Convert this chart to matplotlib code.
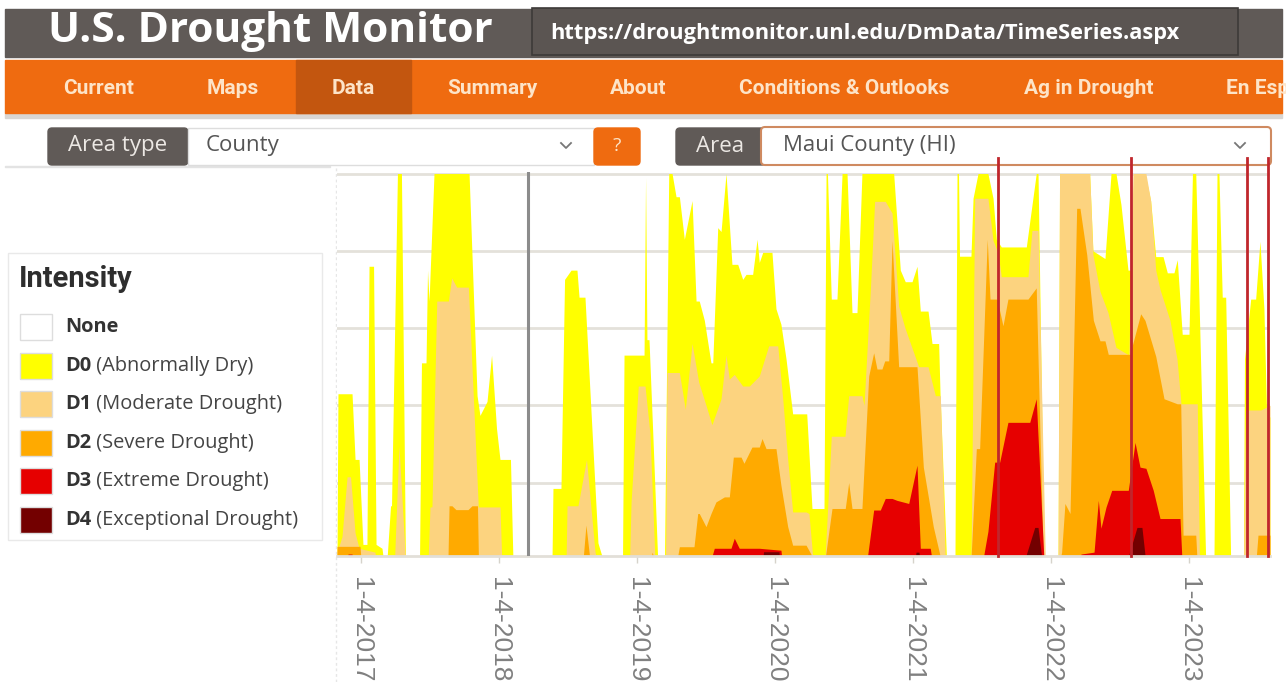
import matplotlib
matplotlib.use("Agg")
import matplotlib.pyplot as plt
from matplotlib.patches import Rectangle, FancyBboxPatch

W, H = 1286, 682

# Cumulative % of Maui County in each category; time in decimal years (2017.0 = 1-4-2017)
d0_t = [2016.826, 2016.833, 2016.935, 2016.957, 2016.986, 2017.014, 2017.043, 2017.058, 2017.091,
        2017.109, 2017.152, 2017.163, 2017.188, 2017.214, 2017.221, 2017.264, 2017.293, 2017.322,
        2017.424, 2017.438, 2017.471, 2017.482, 2017.493, 2017.529, 2017.783, 2017.841, 2017.862,
        2017.913, 2017.946, 2017.982, 2018.007, 2018.083, 2018.101,
        2018.384, 2018.391, 2018.449, 2018.475, 2018.522, 2018.565, 2018.580, 2018.623, 2018.717,
        2018.754, 2018.895, 2018.906, 2019.051, 2019.062, 2019.072, 2019.087, 2019.114, 2019.150,
        2019.199, 2019.230, 2019.254, 2019.283, 2019.307, 2019.343, 2019.399, 2019.428, 2019.451,
        2019.488, 2019.536, 2019.549, 2019.585, 2019.609, 2019.645, 2019.688, 2019.730, 2019.766,
        2019.790, 2019.838, 2019.870, 2019.886, 2019.911, 2019.978, 2020.007, 2020.043, 2020.080,
        2020.128, 2020.230, 2020.268, 2020.333, 2020.355, 2020.370, 2020.380, 2020.408, 2020.449,
        2020.486, 2020.522, 2020.558, 2020.594, 2020.630, 2020.860, 2020.908, 2020.944, 2020.993,
        2021.029, 2021.053, 2021.109, 2021.138, 2021.186, 2021.196, 2021.243,
        2021.304, 2021.319, 2021.330, 2021.337, 2021.420, 2021.435, 2021.471, 2021.543, 2021.580,
        2021.604, 2021.640, 2021.821, 2021.893, 2021.906, 2021.949,
        2022.051, 2022.062, 2022.280, 2022.304, 2022.391, 2022.435, 2022.471, 2022.507, 2022.558,
        2022.580, 2022.601, 2022.681, 2022.722, 2022.759, 2022.812, 2022.843, 2022.891, 2022.915,
        2022.951, 2022.988, 2023.000, 2023.025, 2023.049, 2023.121, 2023.181, 2023.203, 2023.217,
        2023.241, 2023.266, 2023.302, 2023.395, 2023.402, 2023.447, 2023.483, 2023.514, 2023.543,
        2023.563, 2023.587]
d0_v = [0, 43, 43, 26, 26, 4, 4, 76, 76,
        4, 3, 0, 0, 14, 14, 100, 100, 0,
        0, 51, 51, 75, 67, 100, 100, 42.5, 37.4,
        41, 53, 34, 26, 26, 0,
        0, 18.5, 18.5, 72.6, 75, 75, 68, 68, 4.4,
        0, 0, 53, 53, 99, 57, 57, 33, 0,
        0, 100, 100, 94, 94, 83, 93, 67, 67,
        62, 51, 51, 86, 85, 100, 76.5, 76.5, 72.6,
        73.9, 73.9, 83, 77, 79.6, 79.6, 65, 61, 52,
        37.8, 37.8, 13.3, 13.3, 13.3, 100, 100, 67.5, 67.5,
        100, 100, 64, 64, 100, 100, 75, 72, 72,
        76, 64.4, 64.4, 56, 56, 43, 0,
        0, 100, 100, 78.6, 78.6, 93.6, 100, 100, 93.6,
        83, 81, 81, 100, 100, 0,
        0, 100, 100, 80, 78, 100, 100, 92, 75,
        75, 100, 100, 93, 78.5, 78.5, 74.3, 74.3, 77.7,
        58.4, 58.4, 58.4, 100, 100, 0, 0, 100, 100,
        68, 68, 0, 0, 52, 67.5, 67.5, 82.5, 65,
        37, 37]

d1_t = [2016.826, 2016.862, 2016.899, 2016.924, 2016.957, 2016.986, 2017.101, 2017.109, 2017.243,
        2017.275, 2017.322, 2017.486, 2017.500, 2017.514, 2017.549, 2017.633, 2017.657, 2017.693,
        2017.778, 2017.850, 2018.007, 2018.020,
        2018.486, 2018.493, 2018.572, 2018.634, 2018.696, 2018.710, 2018.946, 2018.957, 2019.009,
        2019.058, 2019.094, 2019.130,
        2019.207, 2019.217, 2019.307, 2019.350, 2019.399, 2019.447, 2019.500, 2019.543, 2019.609,
        2019.645, 2019.669, 2019.705, 2019.766, 2019.814, 2019.886, 2019.954, 2020.020, 2020.056,
        2020.092, 2020.128, 2020.225, 2020.246, 2020.268, 2020.275,
        2020.362, 2020.408, 2020.507, 2020.534, 2020.630, 2020.645, 2020.691, 2020.722, 2020.799,
        2020.848, 2020.896, 2020.942, 2021.041, 2021.109, 2021.162, 2021.198, 2021.234,
        2021.420, 2021.424, 2021.447, 2021.543, 2021.580, 2021.616, 2021.640, 2021.833, 2021.862,
        2021.906, 2021.959,
        2022.051, 2022.062, 2022.280, 2022.304, 2022.355, 2022.413, 2022.471, 2022.565, 2022.594,
        2022.688, 2022.722, 2022.759, 2022.790, 2022.862, 2022.913, 2022.942, 2023.060, 2023.076,
        2023.395, 2023.409, 2023.520, 2023.587]
d1_v = [2, 6, 21.5, 21.5, 7, 3, 2, 0, 0,
        29.6, 0, 0, 13.7, 13.7, 67, 67, 73, 70.6,
        70.6, 13.7, 13.7, 0,
        0, 14, 14, 26, 2, 0, 0, 15, 45,
        45, 32.7, 0,
        0, 48.5, 48.5, 39, 56, 46, 40, 35, 41.7,
        53, 46.8, 48, 45, 45, 47.6, 55.4, 55.4, 41.7,
        26, 12.4, 12.4, 12, 3, 0,
        0, 32, 32, 42.5, 42.5, 40, 70, 92.8, 92.8,
        89.8, 65.7, 60, 50, 50, 42.5, 42.5, 0,
        0, 11.6, 93.6, 93.6, 82.7, 79.4, 73.3, 73.3, 85.3,
        85.3, 0,
        0, 100, 100, 79, 69.5, 64, 55, 53, 100,
        100, 93, 75, 70, 62, 52, 40.4, 40.4, 0,
        0, 38.8, 38.8, 40]

d2_t = [2016.826, 2016.993, 2017.000,
        2017.630, 2017.638, 2017.659, 2017.688, 2017.775, 2017.804, 2017.844, 2017.851,
        2018.609, 2018.630, 2018.659, 2019.101, 2019.109, 2019.130,
        2019.290, 2019.307, 2019.413, 2019.440, 2019.451, 2019.500, 2019.536, 2019.572, 2019.633,
        2019.669, 2019.698, 2019.754, 2019.775, 2019.833, 2019.886, 2019.906, 2019.935, 2020.007,
        2020.043, 2020.092, 2020.128, 2020.225, 2020.268, 2020.275,
        2020.362, 2020.413, 2020.509, 2020.534, 2020.558, 2020.630, 2020.679, 2020.715, 2020.739,
        2020.775, 2020.795, 2020.824, 2020.848, 2020.896, 2021.029, 2021.075, 2021.147, 2021.203,
        2021.420, 2021.459, 2021.483, 2021.538, 2021.558, 2021.609, 2021.652, 2021.688, 2021.833,
        2021.893, 2021.942, 2021.949,
        2022.065, 2022.077, 2022.101, 2022.138, 2022.186, 2022.210, 2022.259, 2022.307, 2022.355,
        2022.391, 2022.415, 2022.572, 2022.650, 2022.681, 2022.759, 2022.819, 2022.915, 2022.940,
        2022.957, 2023.049, 2023.058, 2023.486, 2023.500, 2023.587]
d2_v = [3.5, 3.5, 0,
        0, 14, 14, 13, 13, 14, 14, 0,
        0, 9, 0, 0, 2, 0,
        0, 3.4, 3.4, 12, 12, 8.6, 12, 15, 16.3,
        16.3, 26.6, 26.6, 25, 29.2, 29.2, 31.4, 28.8, 28.8,
        19.3, 8.6, 3.8, 3.8, 1, 0,
        0, 13.3, 13.3, 20, 13.3, 13.3, 47.6, 53.6, 49.4,
        49.4, 51.5, 51.5, 82.7, 50, 50, 24, 8.6, 0,
        0, 28.8, 28.8, 83, 67.5, 67.5, 60.6, 67.5, 67.5,
        70.4, 2, 0,
        0, 2, 14.6, 12, 91, 91, 79, 62, 56.7,
        56.7, 53.2, 53.2, 63.7, 62, 52.7, 41.7, 40.4, 40.4,
        6.4, 6.4, 0, 0, 6.4, 6.4]

d3_t = [2016.899, 2016.906, 2016.935, 2016.942,
        2019.536, 2019.560, 2019.681, 2019.705, 2019.741, 2019.886, 2020.043, 2020.051,
        2020.667, 2020.715, 2020.763, 2020.799, 2020.848, 2020.884, 2020.969, 2021.029, 2021.053,
        2021.125, 2021.138,
        2021.507, 2021.543, 2021.592, 2021.628, 2021.688, 2021.846, 2021.893, 2021.949,
        2022.210, 2022.217, 2022.312, 2022.343, 2022.362, 2022.399, 2022.440, 2022.560, 2022.609,
        2022.645, 2022.688, 2022.741, 2022.790, 2022.935, 2022.949]
d3_v = [0, 1.5, 1.5, 0,
        0, 3, 3, 5.6, 3, 3, 2.5, 0,
        0, 12.9, 12.9, 15.9, 15.9, 15.4, 14.6, 24.5, 3,
        3, 0,
        0, 7.4, 25.3, 25.3, 35.6, 35.6, 41.7, 0,
        0, 1.5, 2, 15.4, 8.2, 13.7, 18, 18, 30.4,
        24, 23.7, 18, 10.7, 10.7, 0]

d4_t = [2019.911, 2019.917, 2020.029, 2020.033,
        2021.014, 2021.022, 2021.043, 2021.051,
        2021.809, 2021.882, 2021.906, 2021.935,
        2022.553, 2022.623, 2022.659, 2022.681, 2022.935, 2022.942]
d4_v = [0, 2.1, 2.1, 0,
        0, 2, 2, 0,
        0, 8.4, 8.4, 0,
        0, 8.4, 8.4, 1.3, 1.3, 0]

series = [(d0_t, d0_v), (d1_t, d1_v), (d2_t, d2_v), (d3_t, d3_v), (d4_t, d4_v)]
colors = ["#ffff00", "#fcd37f", "#ffaa00", "#e60000", "#730000"]

# red marker lines and the grey hover cursor
event_t = [2021.616, 2022.583, 2023.417, 2023.569]
cursor_t = 2018.21

tick_years = [2017, 2018, 2019, 2020, 2021, 2022, 2023]
tick_labels = [f"1-4-{y}" for y in tick_years]

nav_items = ["Current", "Maps", "Data", "Summary", "About",
             "Conditions & Outlooks", "Ag in Drought", "En Español"]
nav_x = [99, 233, 353, 492, 638, 844, 1089, 1226]

legend_codes = ["", "D0", "D1", "D2", "D3", "D4"]
legend_names = ["None", "(Abnormally Dry)", "(Moderate Drought)", "(Severe Drought)",
                "(Extreme Drought)", "(Exceptional Drought)"]
legend_colors = ["#ffffff"] + colors

GRAY = "#605a57"
ORANGE = "#ef6b10"
NARROW = ["Roboto", "DejaVu Sans"]
SANS = ["Open Sans", "DejaVu Sans"]

fig = plt.figure(figsize=(W / 100, H / 100), dpi=100)
page = fig.add_axes([0, 0, 1, 1])
page.set_xlim(0, W)
page.set_ylim(H, 0)
page.axis("off")

# header bar
page.add_patch(Rectangle((5, 9), 1277, 48, color=GRAY))
page.text(48, 31, "U.S. Drought Monitor", color="white", fontsize=30.5, weight="bold",
          family=SANS, va="center", ha="left")
page.add_patch(Rectangle((532, 8), 706, 47, facecolor="#5b5552", edgecolor="#3d3a38", lw=1.2))
page.text(550, 33, "https://droughtmonitor.unl.edu/DmData/TimeSeries.aspx", color="white",
          fontsize=15.7, weight="bold", family=SANS, va="center", ha="left")

# nav bar
page.add_patch(Rectangle((5, 113), 1277, 5, color="#d9d6d3"))
page.add_patch(Rectangle((5, 60), 1277, 53, color=ORANGE))
page.add_patch(Rectangle((296, 60), 115, 53, color="#c3560f"))
clip = Rectangle((0, 60), 1280, 53, transform=page.transData)
for label, x in zip(nav_items, nav_x):
    t = page.text(x, 88, label, color="#fde4c8", fontsize=15, weight="bold", family=NARROW,
                  va="center", ha="left" if label == "En Español" else "center")
    t.set_clip_path(clip)

# area selectors
page.add_patch(Rectangle((5, 166), 325, 1, color="#e3e3e3"))
page.add_patch(FancyBboxPatch((48, 128), 140, 37, boxstyle="round,pad=0,rounding_size=4", color=GRAY))
page.text(118, 146, "Area type", color="#ece8e4", fontsize=16, family=SANS, va="center", ha="center")
page.add_patch(Rectangle((188, 128), 406, 37, facecolor="white", edgecolor="#dddddd", lw=1))
page.text(206, 146, "County", color="#555555", fontsize=16, family=SANS, va="center")
page.plot([561, 566, 571], [143, 148, 143], color="#777777", lw=1.3)
page.add_patch(FancyBboxPatch((594, 128), 46, 37, boxstyle="round,pad=0,rounding_size=4", color=ORANGE))
page.text(617, 146, "?", color="#fde4c8", fontsize=14, family=SANS, va="center", ha="center")

page.add_patch(FancyBboxPatch((676, 128), 90, 37, boxstyle="round,pad=0,rounding_size=4", color=GRAY))
page.text(720, 146, "Area", color="#ece8e4", fontsize=16, family=SANS, va="center", ha="center")
page.add_patch(FancyBboxPatch((761, 127), 510, 38, boxstyle="round,pad=0,rounding_size=4",
                              facecolor="white", edgecolor="#cf8a60", lw=1.5))
page.text(783, 146, "Maui County (HI)", color="#555555", fontsize=16, family=SANS, va="center")
page.plot([1235, 1240, 1245], [143, 148, 143], color="#777777", lw=1.3)

# legend panel
page.add_patch(Rectangle((8, 253), 314, 287, facecolor="white", edgecolor="#e9e9e9", lw=1))
page.text(19, 279, "Intensity", color="#2e2e2e", fontsize=21, weight="bold", family=NARROW,
          va="center", ha="left")
for i, (code, name, col) in enumerate(zip(legend_codes, legend_names, legend_colors)):
    yc = 327 + i * 38.6
    page.add_patch(Rectangle((20, yc - 13), 32, 26, facecolor=col, edgecolor="#dddddd", lw=1))
    if code:
        b = page.text(65, yc, code, color="#333333", fontsize=14.4, weight="bold", family=SANS,
                      va="center", ha="left")
        page.annotate(" " + name, xy=(1, 0), xycoords=b, va="bottom", ha="left",
                      color="#444444", fontsize=14.4, family=SANS)
    else:
        page.text(65, yc, name, color="#333333", fontsize=14.4, weight="bold", family=SANS,
                  va="center", ha="left")

# chart panel border
page.plot([336, 336], [168, 682], color="#e6e6e6", lw=1, ls=(0, (2, 2)))

ax = fig.add_axes([337 / W, (H - 556) / H, (1270 - 337) / W, (556 - 172) / H])
ax.set_xlim(2016.826, 2023.587)
ax.set_ylim(1, 100.4)
ax.set_axisbelow(True)
ax.set_yticks([20, 40, 60, 80, 100])
ax.yaxis.grid(True, color="#e4e1da", lw=2)
ax.tick_params(axis="y", length=0, labelleft=False)
for (t, v), col in zip(series, colors):
    ax.fill_between(t, 0, v, color=col, lw=0, zorder=2)

ax.axvline(cursor_t, color="#8c8c8c", lw=2.2, zorder=3)
for et in event_t:
    ax.axvline(et, ymin=0, ymax=1.036, color="#c0262c", lw=2, zorder=4, clip_on=False)

ax.set_xticks(tick_years)
ax.set_xticklabels(tick_labels, rotation=270, color="#808080", fontsize=19,
                   family=["Liberation Sans", "DejaVu Sans"])
ax.tick_params(axis="x", length=5, width=1, color="#d6d3cb", pad=10)
for side in ["top", "left", "right"]:
    ax.spines[side].set_visible(False)
ax.spines["bottom"].set_color("#e2dfd8")
ax.spines["bottom"].set_linewidth(2)

fig.savefig("out.png", dpi=100)
